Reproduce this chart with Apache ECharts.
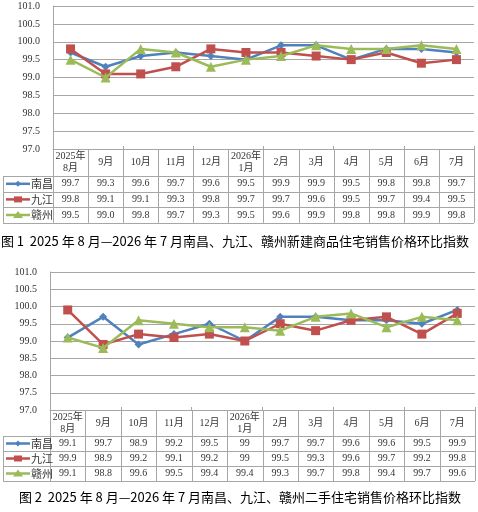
<!DOCTYPE html>
<html lang="zh">
<head>
<meta charset="UTF-8" />
<title>南昌、九江、赣州住宅销售价格环比指数</title>
<script src="https://cdn.jsdelivr.net/npm/echarts@6/dist/echarts.min.js"></script>
<style>
  html, body { margin: 0; padding: 0; background: #fff; }
  #box { width: 478px; height: 512px; }
</style>
</head>
<body>
<div id="box"></div>
<script>
  // 数据
  var months = ["2025年\n8月", "9月", "10月", "11月", "12月", "2026年\n1月", "2月", "3月", "4月", "5月", "6月", "7月"];
  var cities = ["南昌", "九江", "赣州"];
  // 图1 新建商品住宅
  var newNanchang = [99.7, 99.3, 99.6, 99.7, 99.6, 99.5, 99.9, 99.9, 99.5, 99.8, 99.8, 99.7];
  var newJiujiang = [99.8, 99.1, 99.1, 99.3, 99.8, 99.7, 99.7, 99.6, 99.5, 99.7, 99.4, 99.5];
  var newGanzhou = [99.5, 99.0, 99.8, 99.7, 99.3, 99.5, 99.6, 99.9, 99.8, 99.8, 99.9, 99.8];
  // 图2 二手住宅
  var oldNanchang = [99.1, 99.7, 98.9, 99.2, 99.5, 99, 99.7, 99.7, 99.6, 99.6, 99.5, 99.9];
  var oldJiujiang = [99.9, 98.9, 99.2, 99.1, 99.2, 99, 99.5, 99.3, 99.6, 99.7, 99.2, 99.8];
  var oldGanzhou = [99.1, 98.8, 99.6, 99.5, 99.4, 99.4, 99.3, 99.7, 99.8, 99.4, 99.7, 99.6];
  var yMin = 97, yMax = 101, yStep = 0.5;
  var captions = [
    "图 1  2025 年 8 月—2026 年 7 月南昌、九江、赣州新建商品住宅销售价格环比指数",
    "图 2  2025 年 8 月—2026 年 7 月南昌、九江、赣州二手住宅销售价格环比指数"
  ];

  var colors = ["#4f81bd", "#c0504d", "#9bbb59"];
  var symbols = ["diamond", "rect", "triangle"];
  var symbolSizes = [8, 9, 10];
  var gridColor = "#a6a6a6";
  var numFont = "10px 'Liberation Serif', 'Noto Sans CJK SC'";

  var grids = [
    { left: 53, right: 4, top: 6, height: 143 },
    { left: 50, right: 3, top: 272, height: 138 }
  ];

  function yAxisOf(i) {
    return {
      type: "value",
      gridIndex: i,
      min: yMin,
      max: yMax,
      interval: yStep,
      axisLine: { show: true, lineStyle: { color: gridColor } },
      axisTick: { show: false },
      axisLabel: {
        margin: 13,
        color: "#333",
        fontSize: 10,
        fontFamily: "Liberation Serif",
        formatter: function (v) { return v.toFixed(1); }
      },
      splitLine: { show: true, lineStyle: { color: gridColor, width: 1 } }
    };
  }

  function xAxisOf(i) {
    return {
      type: "category",
      gridIndex: i,
      data: months,
      boundaryGap: true,
      axisLine: { show: true, lineStyle: { color: gridColor } },
      axisTick: { show: true, inside: true, length: 3, lineStyle: { color: gridColor } },
      axisLabel: { show: false }
    };
  }

  function lineSeries(name, data, k, gi) {
    return {
      name: name,
      type: "line",
      xAxisIndex: gi,
      yAxisIndex: gi,
      data: data,
      symbol: symbols[k],
      symbolSize: symbolSizes[k],
      showSymbol: true,
      lineStyle: { color: colors[k], width: 2.5 },
      itemStyle: { color: colors[k] },
      z: 3 + k
    };
  }

  var chart = echarts.init(document.getElementById("box"), null, { renderer: "canvas" });
  chart.setOption({
    animation: false,
    grid: grids,
    xAxis: [xAxisOf(0), xAxisOf(1)],
    yAxis: [yAxisOf(0), yAxisOf(1)],
    series: [
      lineSeries(cities[0], newNanchang, 0, 0),
      lineSeries(cities[1], newJiujiang, 1, 0),
      lineSeries(cities[2], newGanzhou, 2, 0),
      lineSeries(cities[0], oldNanchang, 0, 1),
      lineSeries(cities[1], oldJiujiang, 1, 1),
      lineSeries(cities[2], oldGanzhou, 2, 1)
    ]
  });

  function crisp(v) { return Math.round(v) + 0.5; }

  function hline(x1, x2, y) {
    return { type: "line", silent: true, shape: { x1: x1, y1: crisp(y), x2: x2, y2: crisp(y) }, style: { stroke: gridColor, lineWidth: 1 } };
  }
  function vline(x, y1, y2) {
    return { type: "line", silent: true, shape: { x1: crisp(x), y1: y1, x2: crisp(x), y2: y2 }, style: { stroke: gridColor, lineWidth: 1 } };
  }
  function txt(s, x, y, font, align) {
    return {
      type: "text", silent: true,
      style: { text: s, x: x, y: y, font: font, fill: "#333", align: align || "center", textAlign: align || "center", verticalAlign: "middle", textVerticalAlign: "middle", lineHeight: 12 }
    };
  }
  function marker(k, cx, cy) {
    var s = symbolSizes[k] / 2;
    if (symbols[k] === "rect") {
      return { type: "rect", silent: true, shape: { x: cx - s + 0.5, y: cy - s + 1.5, width: 2 * s - 1, height: 2 * s - 3 }, style: { fill: colors[k] } };
    }
    if (symbols[k] === "diamond") {
      return { type: "polygon", silent: true, shape: { points: [[cx, cy - s + 1], [cx + s - 1, cy], [cx, cy + s - 1], [cx - s + 1, cy]] }, style: { fill: colors[k] } };
    }
    return { type: "polygon", silent: true, shape: { points: [[cx, cy - s + 1], [cx + s, cy + s - 2], [cx - s, cy + s - 2]] }, style: { fill: colors[k] } };
  }

  // 数据表
  function tableOf(gi, rows, fmt, headH, rowH, caption, capX, capY) {
    var g = grids[gi];
    var top = g.top + g.height;
    var px = function (i) { return chart.convertToPixel({ xAxisIndex: gi }, i); };
    var band = px(1) - px(0);
    var xs = [];
    for (var i = 0; i < months.length; i++) xs.push(px(i) - band / 2);
    xs.push(px(months.length - 1) + band / 2);
    var legLeft = 3;
    var bottom = top + headH + rows.length * rowH;
    var els = [];
    var right = xs[xs.length - 1];
    els.push(hline(xs[0], right, top));
    for (var r = 0; r <= rows.length; r++) {
      els.push(hline(legLeft, right, top + headH + r * rowH));
    }
    els.push(vline(legLeft, top + headH, bottom));
    for (var c = 0; c < xs.length; c++) {
      els.push(vline(xs[c], top, bottom));
    }
    for (var m = 0; m < months.length; m++) {
      els.push(txt(months[m], px(m), top + headH / 2, numFont));
    }
    rows.forEach(function (data, k) {
      var cy = top + headH + k * rowH + rowH / 2;
      els.push({ type: "line", silent: true, shape: { x1: legLeft + 3, y1: cy, x2: legLeft + 27, y2: cy }, style: { stroke: colors[k], lineWidth: 2.5 } });
      els.push(marker(k, legLeft + 15, cy));
      els.push(txt(cities[k], legLeft + 28, cy, "11px 'Noto Sans CJK SC'", "left"));
      for (var j = 0; j < data.length; j++) {
        els.push(txt(fmt(data[j]), px(j), cy, numFont));
      }
    });
    els.push({
      type: "text", silent: true,
      style: { text: caption, x: capX, y: capY, font: "13px 'Noto Sans CJK SC'", fill: "#000", align: "center", textAlign: "center", verticalAlign: "middle", textVerticalAlign: "middle" }
    });
    return els;
  }

  var graphics = []
    .concat(tableOf(0, [newNanchang, newJiujiang, newGanzhou], function (v) { return v.toFixed(1); }, 27, 15.6, captions[0], 235, 241))
    .concat(tableOf(1, [oldNanchang, oldJiujiang, oldGanzhou], function (v) { return String(v); }, 26, 15, captions[1], 240, 497));

  chart.setOption({ graphic: { elements: graphics } });
</script>
</body>
</html>
